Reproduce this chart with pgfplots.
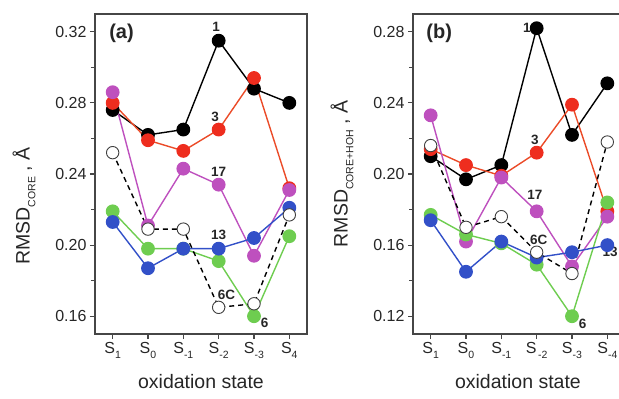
\documentclass[border=0pt]{standalone}
\usepackage{fontspec}
\setmainfont{Liberation Sans}
\usepackage{pgfplots}
\pgfplotsset{compat=1.18}
\definecolor{cred}{RGB}{238,45,30}
\definecolor{credl}{RGB}{235,75,40}
\definecolor{cmag}{RGB}{190,80,190}
\definecolor{cgreen}{RGB}{110,205,80}
\definecolor{cblue}{RGB}{50,80,200}
\definecolor{cax}{RGB}{70,70,70}
\newcommand\sub[1]{\raisebox{-0.3em}{\fontsize{10.5}{10.5}\selectfont #1}}
\tikzset{lbl/.style={font=\bfseries\fontsize{13.5}{13.5}\selectfont, text=black!85}}
\pgfplotsset{
  panel/.style={
    scale only axis, width=212pt, height=320pt,
    xmin=-0.5, xmax=5.5, xtick={0,...,5},
    axis line style={line width=1.4pt, cax},
    tick align=outside, xtick pos=bottom, ytick pos=left,
    major tick length=5pt, minor tick length=4pt,
    minor y tick num=1,
    tick style={line width=1.1pt, cax},
    yticklabel style={/pgf/number format/.cd, fixed, fixed zerofill, precision=2, assume math mode=true},
    tick label style={font=\fontsize{16}{18}\selectfont, text=black!85},
    label style={font=\fontsize{19.5}{21}\selectfont, text=black!85},
    xlabel={oxidation state},
    xlabel style={at={(axis description cs:0.5,-0.15)}, anchor=center},
    every axis plot/.append style={line width=1.4pt, mark=*, mark size=6.2pt},
  },
  opn/.style={black, dashed, dash pattern=on 5pt off 4pt, mark options={solid, fill=white, draw=black!75, line width=0.9pt}},
}
\begin{document}
\begin{tikzpicture}[x=1pt,y=1pt]
\begin{axis}[panel, at={(95pt,65pt)}, anchor=south west,
  ymin=0.150, ymax=0.330, ytick={0.16,0.20,0.24,0.28,0.32},
  xticklabels={S\sub{1}, S\sub{0}, S\sub{-1}, S\sub{-2}, S\sub{-3}, S\sub{4}},
  ylabel={RMSD\sub{CORE} , Å},
  ylabel style={at={(axis description cs:-0.335,0.40)}, anchor=center, rotate=0},
]
\addplot[black, mark options={fill=black}] coordinates {(0,0.276)(1,0.262)(2,0.265)(3,0.315)(4,0.288)(5,0.280)};
\addplot[credl, mark options={fill=cred, draw=cred}] coordinates {(0,0.280)(1,0.259)(2,0.253)(3,0.265)(4,0.294)(5,0.232)};
\addplot[cmag, mark options={fill=cmag}] coordinates {(0,0.286)(1,0.211)(2,0.243)(3,0.234)(4,0.194)(5,0.231)};
\addplot[cgreen, mark options={fill=cgreen}] coordinates {(0,0.219)(1,0.198)(2,0.198)(3,0.191)(4,0.160)(5,0.205)};
\addplot[cblue, mark options={fill=cblue}] coordinates {(0,0.213)(1,0.187)(2,0.198)(3,0.198)(4,0.204)(5,0.221)};
\addplot[opn] coordinates {(0,0.252)(1,0.209)(2,0.209)(3,0.165)(4,0.167)(5,0.217)};
\node[font=\bfseries\fontsize{20}{20}\selectfont, text=black!85] at (axis cs:0.25,0.319) {(a)};
\node[lbl] at (axis cs:2.93,0.323) {1};
\node[lbl] at (axis cs:2.90,0.272) {3};
\node[lbl] at (axis cs:3.0,0.241) {17};
\node[lbl] at (axis cs:3.0,0.2056) {13};
\node[lbl] at (axis cs:3.22,0.172) {6C};
\node[lbl] at (axis cs:4.3,0.156) {6};
\end{axis}
\begin{axis}[panel, at={(413pt,65pt)}, anchor=south west,
  ymin=0.110, ymax=0.290, ytick={0.12,0.16,0.20,0.24,0.28},
  xticklabels={S\sub{1}, S\sub{0}, S\sub{-1}, S\sub{\,-2}, S\sub{-3}, S\sub{-4}},
  ylabel={RMSD\sub{CORE+HOH} , Å},
  ylabel style={at={(axis description cs:-0.335,0.5)}, anchor=center, rotate=0},
  xlabel style={at={(axis description cs:0.495,-0.15)}},
]
\addplot[black, mark options={fill=black}] coordinates {(0,0.210)(1,0.197)(2,0.205)(3,0.282)(4,0.222)(5,0.251)};
\addplot[credl, mark options={fill=cred, draw=cred}] coordinates {(0,0.214)(1,0.205)(2,0.199)(3,0.212)(4,0.239)(5,0.179)};
\addplot[cmag, mark options={fill=cmag}] coordinates {(0,0.233)(1,0.162)(2,0.198)(3,0.179)(4,0.148)(5,0.176)};
\addplot[cgreen, mark options={fill=cgreen}] coordinates {(0,0.177)(1,0.166)(2,0.161)(3,0.149)(4,0.120)(5,0.184)};
\addplot[cblue, mark options={fill=cblue}] coordinates {(0,0.174)(1,0.145)(2,0.162)(3,0.153)(4,0.156)(5,0.160)};
\addplot[opn] coordinates {(0,0.216)(1,0.170)(2,0.176)(3,0.156)(4,0.144)(5,0.218)};
\node[font=\bfseries\fontsize{20}{20}\selectfont, text=black!85] at (axis cs:0.24,0.279) {(b)};
\node[lbl] at (axis cs:2.72,0.282) {1};
\node[lbl] at (axis cs:2.95,0.219) {3};
\node[lbl] at (axis cs:2.95,0.188) {17};
\node[lbl] at (axis cs:3.06,0.163) {6C};
\node[lbl] at (axis cs:5.08,0.156) {13};
\node[lbl] at (axis cs:4.3,0.1155) {6};
\end{axis}
\pgfresetboundingbox
\path[use as bounding box] (0,0) rectangle (619,399);
\end{tikzpicture}
\end{document}
